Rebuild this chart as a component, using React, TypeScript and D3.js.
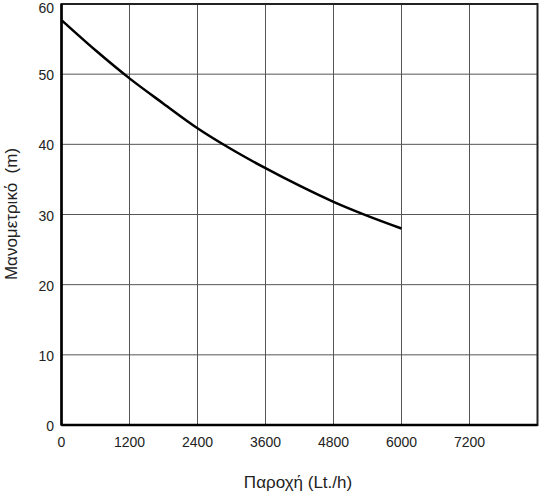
import React from "react";
import * as d3 from "d3";

const flow = [0, 600, 1200, 1800, 2400, 3000, 3600, 4200, 4800, 5400, 6000];
const head = [57.7, 53.4, 49.4, 45.8, 42.3, 39.3, 36.6, 34.1, 31.8, 29.8, 28.0];
const xTicks = [0, 1200, 2400, 3600, 4800, 6000, 7200];
const xGrid = [1200, 2400, 3600, 4800, 6000, 7200];
const yTicks = [0, 10, 20, 30, 40, 50, 60];
const xTitle = "Παροχή (Lt./h)";
const yTitle = "Μανομετρικό  (m)";

export default function App() {
  const W = 540, H = 494;
  const L = 61.5, R = 537.5, T = 4, B = 425;
  const x = d3.scaleLinear().domain([0, 8400]).range([L, R]);
  const y = d3.scaleLinear().domain([0, 60]).range([B, T]);
  const line = d3
    .line<number>()
    .x((_, i) => x(flow[i]))
    .y((d) => y(d))
    .curve(d3.curveMonotoneX);
  const font = "'Liberation Sans', Arial, sans-serif";
  return (
    <svg width={W} height={H} style={{ position: "absolute", left: 0, top: 0, background: "#fff" }}>
      <rect x={0} y={0} width={W} height={H} fill="#fff" />
      {xGrid.map((v) => (
        <line key={"gx" + v} x1={x(v)} x2={x(v)} y1={T} y2={B} stroke="#555" strokeWidth={1} />
      ))}
      {yTicks.slice(1, -1).map((v) => (
        <line key={"gy" + v} x1={L} x2={R} y1={y(v)} y2={y(v)} stroke="#555" strokeWidth={1} />
      ))}
      <rect x={L} y={T} width={R - L} height={B - T} fill="none" stroke="#222" strokeWidth={2} />
      <line x1={L} x2={L} y1={T} y2={B} stroke="#000" strokeWidth={2.5} />
      <line x1={L} x2={R} y1={B} y2={B} stroke="#000" strokeWidth={2.5} />
      <path d={line(head) || ""} fill="none" stroke="#000" strokeWidth={2.5} />
      {xTicks.map((v) => (
        <text key={"tx" + v} x={x(v)} y={447} textAnchor="middle" fontFamily={font} fontSize={14} fill="#222">
          {v}
        </text>
      ))}
      {yTicks.map((v) => (
        <text key={"ty" + v} x={54} y={Math.max(y(v) + 6, 13)} textAnchor="end" fontFamily={font} fontSize={14} fill="#222">
          {v}
        </text>
      ))}
      <text x={298} y={488} textAnchor="middle" fontFamily={font} fontSize={17} fill="#222">
        {xTitle}
      </text>
      <text
        transform={`translate(17,${214}) rotate(-90)`}
        textAnchor="middle"
        fontFamily={font}
        fontSize={17}
        fill="#222"
        style={{ whiteSpace: "pre" }}
      >
        {yTitle}
      </text>
    </svg>
  );
}
